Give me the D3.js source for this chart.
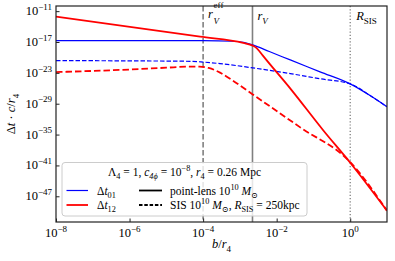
<!DOCTYPE html>
<html>
<head>
  <meta charset="utf-8">
  <title>Time delays</title>
  <script src="https://cdnjs.cloudflare.com/ajax/libs/d3/7.8.5/d3.min.js"></script>
  <style>
    body { margin: 0; background: #fff; }
    svg { display: block; }
    text { font-family: "Liberation Serif", "DejaVu Serif", serif; fill: #000; }
  </style>
</head>
<body>
  <svg></svg>
  <script>
// values, as log10 of b/r4 and log10 of dt*c/r4
var logB01Point = [-8, -4, -3.2, -2.9, -2.65, -2.2, -1.63, -0.82, 0, 0.54, 1.0];
var logDt01Point = [-16.73, -16.75, -16.85, -17.05, -17.55, -18.86, -20.48, -22.8, -25.14, -27.41, -29.6];

var logB01SIS = [-8, -6, -4.35, -4, -3.54, -2.65, -1.63, -0.82, 0, 0.54, 1.0];
var logDt01SIS = [-20.61, -20.67, -20.75, -20.9, -21.2, -22.03, -23.15, -24.15, -25.14, -27.41, -29.6];

var logB12Point = [-8, -4.08, -2.91, -2.65, -2.57, -2.48, -2.38, -1.6, -0.73, 0, 1.0];
var logDt12Point = [-12.07, -15.96, -17.18, -17.7, -18.05, -18.7, -19.6, -26.3, -34.2, -40.47, -49.8];

var logB12SIS = [-8, -6, -5, -4.4, -4.1, -3.85, -3.54, -3.3, -2.65, -2.0, -1.36, 0, 1.0];
var logDt12SIS = [-22.85, -22.35, -22.0, -21.8, -21.8, -22.05, -22.95, -24.0, -27.2, -30.42, -33.6, -40.36, -49.8];

// reference radii: r_V^eff, r_V, R_SIS
var markerB = [1e-4, 2.2e-3, 1];

var xTicks = [1e-8, 1e-6, 1e-4, 1e-2, 1];
var xTickExp = ["\u22128", "\u22126", "\u22124", "\u22122", "0"];
var yTicks = [1e-47, 1e-41, 1e-35, 1e-29, 1e-23, 1e-17, 1e-11];
var yTickExp = ["\u221247", "\u221241", "\u221235", "\u221229", "\u221223", "\u221217", "\u221211"];

var w = 395, h = 261;
var margin = {left: 56, right: 8, top: 6, bottom: 39};
var svg = d3.select("svg").attr("width", w).attr("height", h);

var x = d3.scaleLog().domain([1e-8, 1e1]).range([margin.left, w - margin.right]);
var y = d3.scaleLog().domain([1e-52, 1e-10]).range([h - margin.bottom, margin.top]);

function toPts(lb, ld) {
  return lb.map(function(b, i) { return [Math.pow(10, b), Math.pow(10, ld[i])]; });
}

// text with sub/superscripts; style: "", "i", "sub", "isub", "sup", "isup"
function rich(g, px, py, parts, fs, anchor) {
  var t = g.append("text").attr("x", px).attr("y", py)
    .attr("font-size", fs).attr("text-anchor", anchor || "start");
  var shift = 0;
  parts.forEach(function(p) {
    var s = p[1] || "";
    var target = s.indexOf("sub") >= 0 ? fs * 0.28 : (s.indexOf("sup") >= 0 ? -fs * 0.42 : 0);
    var ts = t.append("tspan").text(p[0]).attr("dy", target - shift);
    shift = target;
    if (target !== 0) ts.attr("font-size", fs * 0.72);
    if (s.charAt(0) === "i") ts.attr("font-style", "italic");
  });
  return t;
}

var plot = svg.append("g");
plot.append("clipPath").attr("id", "clip").append("rect")
  .attr("x", margin.left).attr("y", margin.top)
  .attr("width", w - margin.left - margin.right)
  .attr("height", h - margin.top - margin.bottom);

var body = plot.append("g").attr("clip-path", "url(#clip)");

// vertical markers
var mStyles = [
  {dash: "5.5,2.5", width: 1.6},
  {dash: null, width: 1.6},
  {dash: "1.2,2", width: 1.3}
];
body.selectAll("line.marker")
  .data(markerB)
  .enter()
  .append("line")
  .attr("class", "marker")
  .attr("x1", function(d) { return x(d); })
  .attr("x2", function(d) { return x(d); })
  .attr("y1", margin.top)
  .attr("y2", h - margin.bottom)
  .attr("stroke", "#808080")
  .attr("stroke-width", function(d, i) { return mStyles[i].width; })
  .attr("stroke-dasharray", function(d, i) { return mStyles[i].dash; });

var line = d3.line()
  .x(function(d) { return x(d[0]); })
  .y(function(d) { return y(d[1]); })
  .curve(d3.curveMonotoneX);

var series = [
  {pts: toPts(logB01SIS, logDt01SIS), color: "#0000ff", width: 1.2, dash: "4.5,2"},
  {pts: toPts(logB12SIS, logDt12SIS), color: "#ff0000", width: 1.8, dash: "6.5,3"},
  {pts: toPts(logB01Point, logDt01Point), color: "#0000ff", width: 1.2, dash: null},
  {pts: toPts(logB12Point, logDt12Point), color: "#ff0000", width: 1.8, dash: null}
];
body.selectAll("path.curve")
  .data(series)
  .enter()
  .append("path")
  .attr("class", "curve")
  .attr("d", function(d) { return line(d.pts); })
  .attr("fill", "none")
  .attr("stroke", function(d) { return d.color; })
  .attr("stroke-width", function(d) { return d.width; })
  .attr("stroke-dasharray", function(d) { return d.dash; });

// marker labels
rich(plot, x(markerB[0]) + 5, 18, [["r", "i"]], 12.5);
rich(plot, x(markerB[0]) + 10.5, 13.5, [["eff", "sup"]], 12.5);
rich(plot, x(markerB[0]) + 10.5, 20.5, [["V", "isub"]], 12.5);
rich(plot, x(markerB[1]) + 5, 20, [["r", "i"], ["V", "isub"]], 12.5);
rich(plot, x(markerB[2]) + 6, 20, [["R", "i"], ["SIS", "sub"]], 12.5);

// axes
var xAxis = d3.axisBottom(x).tickValues(xTicks).tickSize(-3.5).tickFormat("");
var yAxis = d3.axisLeft(y).tickValues(yTicks).tickSize(-3.5).tickFormat("");
var gx = plot.append("g").attr("transform", "translate(0," + (h - margin.bottom) + ")").call(xAxis);
var gy = plot.append("g").attr("transform", "translate(" + margin.left + ",0)").call(yAxis);
[gx, gy].forEach(function(g) {
  g.select(".domain").remove();
  g.selectAll(".tick line").attr("stroke", "#222").attr("stroke-width", 1);
});

xTicks.forEach(function(v, i) {
  rich(plot, x(v), h - margin.bottom + 15, [["10"], [xTickExp[i], "sup"]], 12.5, "middle");
});
yTicks.forEach(function(v, i) {
  rich(plot, margin.left - 4, y(v) + 4, [["10"], [yTickExp[i], "sup"]], 12.5, "end");
});

// legend
var lg = plot.append("g");
lg.append("rect")
  .attr("x", 62).attr("y", 162.5).attr("width", 245).attr("height", 53.5)
  .attr("rx", 3).attr("fill", "#fff").attr("fill-opacity", 0.8)
  .attr("stroke", "#cccccc").attr("stroke-width", 1);
rich(lg, 184.5, 176, [["\u039B"], ["4", "sub"], [" = 1, "], ["c", "i"], ["4\u03D5", "isub"],
  [" = 10"], ["\u22128", "sup"], [",  "], ["r", "i"], ["4", "sub"], [" = 0.26 Mpc"]], 11.5, "middle");

var legendRows = [
  {color: "#0000ff", label: [["\u0394"], ["t", "i"], ["01", "sub"]], dash: null,
   text: [["point-lens 10"], ["10", "sup"], [" "], ["M", "i"], ["\u2299", "sub"]]},
  {color: "#ff0000", label: [["\u0394"], ["t", "i"], ["12", "sub"]], dash: "3.5,1.8",
   text: [["SIS 10"], ["10", "sup"], [" "], ["M", "i"], ["\u2299", "sub"], [", "], ["R", "i"], ["SIS", "sub"], [" = 250kpc"]]}
];
legendRows.forEach(function(r, i) {
  var ly = 190.5 + i * 14.5;
  lg.append("line").attr("x1", 66.5).attr("x2", 88).attr("y1", ly).attr("y2", ly)
    .attr("stroke", r.color).attr("stroke-width", i === 0 ? 1.2 : 1.8);
  rich(lg, 97, ly + 4, r.label, 11.5);
  lg.append("line").attr("x1", 139).attr("x2", 162).attr("y1", ly).attr("y2", ly)
    .attr("stroke", "#000").attr("stroke-width", 1.8).attr("stroke-dasharray", r.dash);
  rich(lg, 170, ly + 4, r.text, 11.5);
});

// frame
plot.append("rect")
  .attr("x", margin.left).attr("y", margin.top)
  .attr("width", w - margin.left - margin.right)
  .attr("height", h - margin.top - margin.bottom)
  .attr("fill", "none").attr("stroke", "#222").attr("stroke-width", 1.2);

// axis titles
rich(svg, (margin.left + w - margin.right) / 2, 248, [["b", "i"], ["/"], ["r", "i"], ["4", "sub"]], 12.5, "middle");
var yl = rich(svg, 0, 0, [["\u0394"], ["t", "i"], [" \u00B7 "], ["c", "i"], ["/"], ["r", "i"], ["4", "sub"]], 12.5, "middle");
yl.attr("transform", "translate(15," + ((margin.top + h - margin.bottom) / 2) + ") rotate(-90)");
  </script>
</body>
</html>
